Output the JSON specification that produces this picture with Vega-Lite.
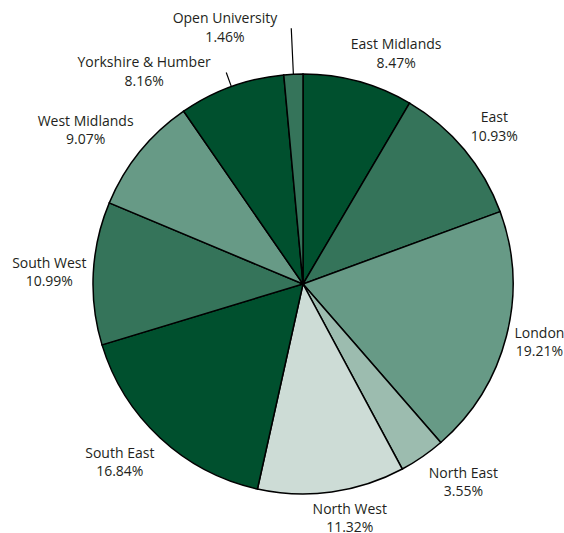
{
  "$schema": "https://vega.github.io/schema/vega-lite/v6.json",
  "width": 420,
  "height": 420,
  "autosize": {"type": "none"},
  "padding": {"left": 93, "top": 74, "right": 51, "bottom": 39},
  "background": "white",
  "config": {"view": {"stroke": null}, "text": {"font": "Open Sans", "fontSize": 14, "color": "#231f20", "lineBreak": "\n", "lineHeight": 18.5, "align": "center", "baseline": "middle", "radius": 240}},
  "data": {
    "values": [
      {"idx": 1, "name": "East Midlands", "share": 0.0847, "shade": "dark"},
      {"idx": 2, "name": "East", "share": 0.1093, "shade": "medium"},
      {"idx": 3, "name": "London", "share": 0.1921, "shade": "light"},
      {"idx": 4, "name": "North East", "share": 0.0355, "shade": "lighter"},
      {"idx": 5, "name": "North West", "share": 0.1132, "shade": "lightest"},
      {"idx": 6, "name": "South East", "share": 0.1684, "shade": "dark"},
      {"idx": 7, "name": "South West", "share": 0.1099, "shade": "medium"},
      {"idx": 8, "name": "West Midlands", "share": 0.0907, "shade": "light"},
      {"idx": 9, "name": "Yorkshire & Humber", "share": 0.0816, "shade": "dark"},
      {"idx": 10, "name": "Open University", "share": 0.0146, "shade": "medium"}
    ]
  },
  "transform": [
    {"calculate": "datum.name + '\\n' + format(datum.share, '.2%')", "as": "label"}
  ],
  "encoding": {
    "theta": {"field": "share", "type": "quantitative", "stack": true},
    "order": {"field": "idx", "type": "quantitative"}
  },
  "layer": [
    {
      "mark": {"type": "arc", "outerRadius": 210, "stroke": "#000000", "strokeWidth": 1.5},
      "encoding": {
        "color": {
          "field": "shade",
          "type": "nominal",
          "legend": null,
          "scale": {
            "domain": ["dark", "medium", "light", "lighter", "lightest"],
            "range": ["#00502e", "#35745a", "#679a86", "#9cbcaf", "#cddcd6"]
          }
        }
      }
    },
    {
      "mark": {"type": "arc", "innerRadius": 210, "outerRadius": 225, "padAngle": 1, "fill": null, "stroke": "#000000", "strokeWidth": 1.2},
      "encoding": {"opacity": {"condition": {"test": "datum.idx == 9", "value": 1}, "value": 0}}
    },
    {
      "mark": {"type": "arc", "innerRadius": 210, "outerRadius": 256, "padAngle": 1, "fill": null, "stroke": "#000000", "strokeWidth": 1.2},
      "encoding": {"opacity": {"condition": {"test": "datum.idx == 10", "value": 1}, "value": 0}}
    },
    {"mark": {"type": "text", "dx": 30, "dy": -7}, "encoding": {"text": {"field": "label"}, "opacity": {"condition": {"test": "datum.idx == 1", "value": 1}, "value": 0}}},
    {"mark": {"type": "text", "dx": 7, "dy": -12}, "encoding": {"text": {"field": "label"}, "opacity": {"condition": {"test": "datum.idx == 2", "value": 1}, "value": 0}}},
    {"mark": {"type": "text", "dx": 4, "dy": -10}, "encoding": {"text": {"field": "label"}, "opacity": {"condition": {"test": "datum.idx == 3", "value": 1}, "value": 0}}},
    {"mark": {"type": "text", "dx": 24, "dy": -8}, "encoding": {"text": {"field": "label"}, "opacity": {"condition": {"test": "datum.idx == 4", "value": 1}, "value": 0}}},
    {"mark": {"type": "text", "dx": 14, "dy": -12}, "encoding": {"text": {"field": "label"}, "opacity": {"condition": {"test": "datum.idx == 5", "value": 1}, "value": 0}}},
    {"mark": {"type": "text", "dx": -20, "dy": -6}, "encoding": {"text": {"field": "label"}, "opacity": {"condition": {"test": "datum.idx == 6", "value": 1}, "value": 0}}},
    {"mark": {"type": "text", "dx": -14, "dy": -8}, "encoding": {"text": {"field": "label"}, "opacity": {"condition": {"test": "datum.idx == 7", "value": 1}, "value": 0}}},
    {"mark": {"type": "text", "dx": -31, "dy": -11}, "encoding": {"text": {"field": "label"}, "opacity": {"condition": {"test": "datum.idx == 8", "value": 1}, "value": 0}}},
    {"mark": {"type": "text", "dx": -77, "dy": 5}, "encoding": {"text": {"field": "label"}, "opacity": {"condition": {"test": "datum.idx == 9", "value": 1}, "value": 0}}},
    {"mark": {"type": "text", "dx": -67, "dy": -25}, "encoding": {"text": {"field": "label"}, "opacity": {"condition": {"test": "datum.idx == 10", "value": 1}, "value": 0}}}
  ]
}
